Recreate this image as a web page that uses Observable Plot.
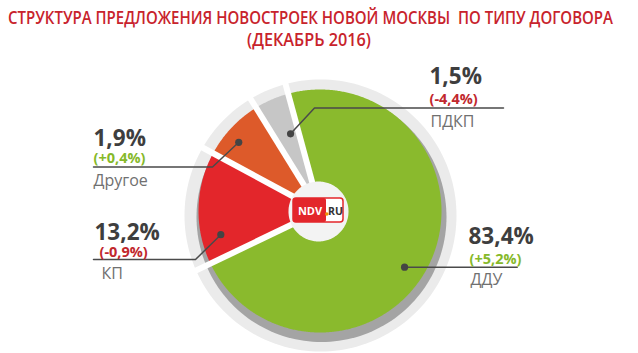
<!DOCTYPE html>
<html><head><meta charset="utf-8">
<script src="https://cdn.jsdelivr.net/npm/d3@7"></script>
<script src="https://cdn.jsdelivr.net/npm/@observablehq/plot@0.6"></script>
<style>
html,body{margin:0;padding:0;background:#fff;width:638px;height:353px;overflow:hidden;}
#title{position:relative;width:638px;height:50px;font-family:"Open Sans",sans-serif;font-weight:600;color:#c8232c;}
#title span{position:absolute;white-space:pre;font-size:18px;line-height:18px;transform-origin:0 50%;}
#chart svg{display:block;}
</style></head>
<body>
<div id="title"><span id="t1">СТРУКТУРА ПРЕДЛОЖЕНИЯ НОВОСТРОЕК НОВОЙ МОСКВЫ  ПО ТИПУ ДОГОВОРА</span><span id="t2">(ДЕКАБРЬ 2016)</span></div>
<div id="chart"></div>
<script>
// ---- data ----
const categories = ["ДДУ", "КП", "Другое", "ПДКП"];
const shareValues = [83.4, 13.2, 1.9, 1.5];      // labelled share, %
const changeValues = [5.2, -0.9, 0.4, -4.4];     // change, p.p.
// sector sizes as drawn in the reference (the artwork is not proportional to the labels)
const sectorShare = [72.1, 15.0, 8.3, 4.6];

// ---- styles / layout ----
const sliceColors = ["#8aba2d", "#e3262b", "#dd5a2a", "#c6c6c6"];
const W = 638, H = 303, TITLE_H = 50;
const CX = 319.5, CY = 210.5;          // pie centre in page coordinates
const R = 121.5;
const deg = Math.PI / 180;
const START = -15.2 * deg;
const P = (px, py) => ({x: px - CX, y: CY - py});
const callouts = [
  {nudge: 9,    r: 101.5, elbow: null,        endX: 516.7, lineY: 266.7, tx: [468, 469, 470], ty: [243.3, 263.3, 284]},
  {nudge: -14.8, r: 102,  elbow: [195, 259],  endX: 93,    lineY: 259,   tx: [94, 99, 101],   ty: [239.3, 256.7, 278]},
  {nudge: -3.1, r: 106.4, elbow: [212, 166.5], endX: 93,   lineY: 166.5, tx: [93, 93, 93],    ty: [145, 162.7, 185]},
  {nudge: 2.6,  r: 82.6,  elbow: [314, 107.5], endX: 503,  lineY: 107.5, tx: [429, 429, 430], ty: [83, 103.3, 126.7]}
];

// title fitting
function fit(id, left, width, cy) {
  const el = document.getElementById(id);
  const w = el.getBoundingClientRect().width;
  el.style.left = left + "px";
  el.style.top = (cy - 9) + "px";
  el.style.transform = `scaleX(${width / w})`;
}
fit("t1", 8, 605, 17);
fit("t2", 247, 124, 39);

const fmt = v => v.toFixed(1).replace(".", ",") + "%";
const fmtChange = v => "(" + (v > 0 ? "+" : v < 0 ? "-" : "") + Math.abs(v).toFixed(1).replace(".", ",") + "%)";

const arcs = d3.pie().sort(null).value(d => d).startAngle(START).endAngle(START + 2 * Math.PI)(sectorShare);

function circlePts(cx, cy, r) {
  const pts = [];
  for (let a = 0; a < 360; a += 2) pts.push({x: cx + r * Math.sin(a * deg), y: cy + r * Math.cos(a * deg)});
  return pts;
}
function slicePts(a0, a1, r) {
  const pts = [{x: 0, y: 0}];
  const n = Math.max(2, Math.ceil((a1 - a0) / (0.5 * deg)));
  for (let k = 0; k <= n; k++) {
    const a = a0 + (a1 - a0) * k / n;
    pts.push({x: r * Math.sin(a), y: r * Math.cos(a)});
  }
  return pts;
}

const marks = [];
// outer light ring and darker shadow
const ringC = P(320, 215), shC = P(321, 216.5), logoC = P(318, 211);
marks.push(Plot.line(circlePts(ringC.x, ringC.y, 136), {x: "x", y: "y", fill: "#ebebeb", stroke: "none", curve: "linear-closed"}));
marks.push(Plot.line(circlePts(shC.x, shC.y, 125), {x: "x", y: "y", fill: "#a4a4a4", stroke: "none", curve: "linear-closed"}));
// slices
arcs.forEach((a, i) => {
  marks.push(Plot.line(slicePts(a.startAngle, a.endAngle, R), {x: "x", y: "y", fill: sliceColors[i], stroke: "none", curve: "linear-closed"}));
});
// white gaps between sectors (running through the ring)
marks.push(Plot.link(arcs, {x1: () => 0, y1: () => 0, x2: d => 150 * Math.sin(d.startAngle), y2: d => 150 * Math.cos(d.startAngle), stroke: "#ffffff", strokeWidth: 6}));
// centre disc with logo
marks.push(Plot.line(circlePts(logoC.x, logoC.y, 30), {x: "x", y: "y", fill: "#f3f3f3", stroke: "none", curve: "linear-closed"}));
const lA = P(293, 198), lB = P(343, 222), lM = P(326, 222);
marks.push(Plot.rect([0], {x1: lA.x, x2: lB.x, y1: lB.y, y2: lA.y, fill: "#ffffff", stroke: "#e3262b", strokeWidth: 1.5, rx: 3}));
marks.push(Plot.rect([0], {x1: lA.x, x2: lM.x, y1: lM.y, y2: lA.y, fill: "#e3262b", rx: 2}));
const tNDV = P(309.5, 214.5), tRU = P(335, 214.5), tDot = P(326.3, 213.5);
marks.push(Plot.text(["NDV"], {x: tNDV.x, y: tNDV.y, text: d => d, fill: "#ffffff", fontSize: 11, fontWeight: 700, fontFamily: "Open Sans", lineAnchor: "bottom"}));
marks.push(Plot.text(["RU"], {x: tRU.x, y: tRU.y, text: d => d, fill: "#333333", fontSize: 10.5, fontWeight: 700, fontFamily: "Open Sans", lineAnchor: "bottom"}));
marks.push(Plot.dot([0], {x: tDot.x, y: tDot.y, r: 1.8, fill: "#f29100", stroke: "none"}));

// callouts
arcs.forEach((a, i) => {
  const c = callouts[i];
  const mid = (a.startAngle + a.endAngle) / 2 + c.nudge * deg;
  const dot = {x: c.r * Math.sin(mid), y: c.r * Math.cos(mid)};
  const pts = [dot];
  if (c.elbow) pts.push(P(c.elbow[0], c.elbow[1]));
  else pts.push({x: dot.x, y: CY - c.lineY});
  pts.push({x: c.endX - CX, y: CY - c.lineY});
  marks.push(Plot.line(pts, {x: "x", y: "y", stroke: "#4a4a4a", strokeWidth: 1.5}));
  marks.push(Plot.dot([dot], {x: "x", y: "y", r: 3.6, fill: "#444444", stroke: "none"}));
  const col = changeValues[i] >= 0 ? "#86b92a" : "#c1272d";
  marks.push(Plot.text([shareValues[i]], {x: c.tx[0] - CX, y: CY - c.ty[0], text: d => fmt(d), textAnchor: "start", lineAnchor: "bottom", fontSize: 22.5, fontWeight: 700, fill: "#3e3e3e", fontFamily: "Open Sans"}));
  marks.push(Plot.text([changeValues[i]], {x: c.tx[1] - CX, y: CY - c.ty[1], text: d => fmtChange(d), textAnchor: "start", lineAnchor: "bottom", fontSize: 14.5, fontWeight: 700, fill: col, fontFamily: "Open Sans"}));
  marks.push(Plot.text([categories[i]], {x: c.tx[2] - CX, y: CY - c.ty[2], text: d => d, textAnchor: "start", lineAnchor: "bottom", fontSize: 16, fontWeight: 400, fill: "#707070", fontFamily: "Open Sans"}));
});

const chart = Plot.plot({
  width: W, height: H, margin: 0,
  x: {domain: [-CX, W - CX], axis: null},
  y: {domain: [CY - TITLE_H - H, CY - TITLE_H], axis: null},
  style: {background: "#ffffff", overflow: "visible"},
  marks
});
document.getElementById("chart").appendChild(chart);
</script>
</body></html>
